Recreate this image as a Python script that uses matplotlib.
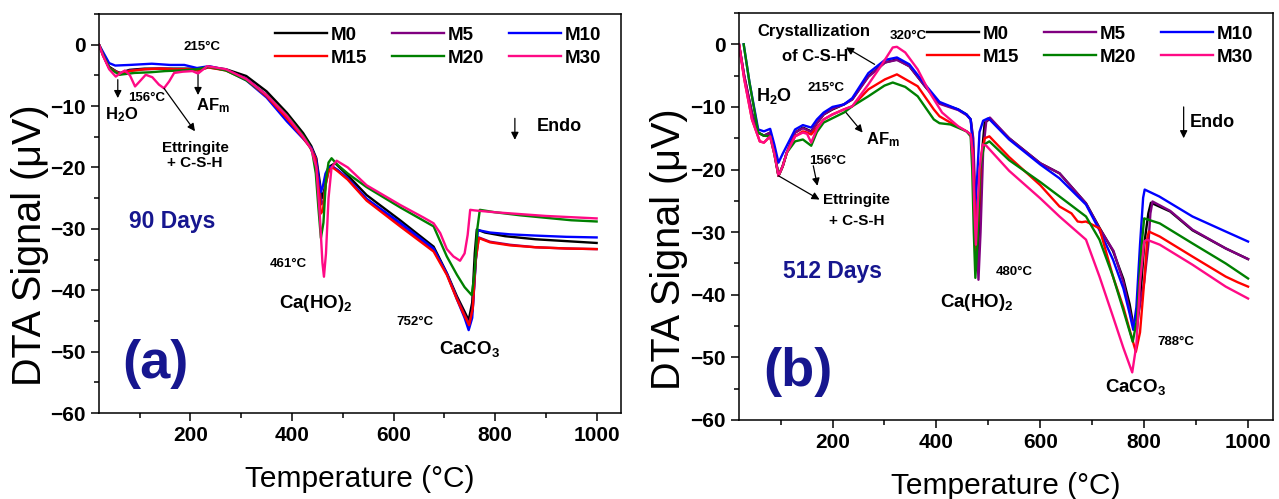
import matplotlib
matplotlib.use("Agg")
import matplotlib.pyplot as plt
from matplotlib.ticker import MultipleLocator

plt.rcParams["font.family"] = ["Liberation Sans", "DejaVu Sans"]
plt.rcParams["mathtext.fontset"] = "custom"
plt.rcParams["mathtext.rm"] = "Liberation Sans:bold"
plt.rcParams["mathtext.it"] = "Liberation Sans:bold"
plt.rcParams["mathtext.bf"] = "Liberation Sans:bold"
plt.rcParams["mathtext.default"] = "rm"

labels = ["M0", "M5", "M10", "M15", "M20", "M30"]
colors = ["#000000", "#800080", "#0000FF", "#FF0000", "#008000", "#FF0A85"]

# ---- 90 days (panel a) ----
m0_90_x = [20, 28, 40, 55, 62, 80, 110, 140, 170, 200, 215, 235, 270, 310, 350, 390, 422, 438, 448, 455, 459, 463, 468, 475, 485,
           510, 547, 613, 679, 705, 725, 740, 748, 755, 760, 764, 780, 820, 880, 940, 1000]
m0_90_y = [0, -1.5, -3.6, -4.4, -4.6, -4.1, -3.9, -3.9, -3.9, -3.9, -4.1, -3.6, -4.0, -5.1, -7.6, -11.1, -14.4, -16.5, -18.5, -22.5,
           -25.0, -24.0, -21.5, -19.8, -19.3, -21.3, -24.5, -28.6, -32.9, -37.2, -41.0, -43.5, -44.9, -42.0, -34.0, -30.1, -30.6,
           -31.2, -31.7, -32.0, -32.3]
m5_90_x = [20, 28, 40, 55, 62, 80, 110, 140, 170, 200, 215, 235, 270, 310, 350, 390, 422, 438, 447, 453, 458, 462, 467, 473, 481,
           490, 510, 547, 613, 679, 705, 725, 740, 749, 756, 762, 768, 790, 830, 880, 940, 1000]
m5_90_y = [0, -1.7, -3.8, -4.4, -4.7, -4.2, -4.0, -3.9, -4.0, -4.0, -4.2, -3.7, -4.1, -5.5, -8.2, -11.8, -15.0, -16.9, -18.5, -22.5,
           -26.0, -25.5, -22.5, -20.3, -19.9, -20.5, -21.9, -25.2, -29.4, -33.5, -37.3, -41.3, -44.0, -45.5, -43.0, -35.0, -31.4,
           -32.1, -32.6, -33.0, -33.2, -33.3]
m10_90_x = [20, 28, 40, 52, 80, 124, 160, 188, 213, 237, 270, 310, 350, 390, 422, 438, 447, 453, 457, 461, 466, 472, 480, 490,
            510, 547, 613, 679, 705, 725, 740, 748, 755, 760, 766, 790, 830, 880, 940, 1000]
m10_90_y = [0, -1.2, -3.0, -3.4, -3.3, -3.1, -3.3, -3.3, -3.8, -3.5, -4.1, -5.8, -8.6, -12.5, -15.3, -16.8, -18.6, -22.0, -24.0,
            -23.0, -21.0, -20.0, -19.9, -20.4, -21.8, -25.1, -29.0, -33.2, -37.3, -41.5, -44.5, -46.5, -44.5, -38.0, -30.2, -30.6,
            -30.9, -31.1, -31.3, -31.4]
m15_90_x = [20, 28, 40, 55, 62, 80, 110, 140, 170, 200, 215, 235, 270, 310, 350, 390, 422, 438, 446, 452, 457, 461, 466, 472, 480,
            490, 510, 547, 613, 679, 705, 725, 740, 749, 756, 762, 768, 790, 830, 880, 940, 1000]
m15_90_y = [0, -1.8, -3.8, -4.5, -4.8, -4.3, -4.0, -3.9, -4.0, -4.0, -4.2, -3.7, -4.2, -5.7, -8.4, -12.0, -15.2, -17.0, -18.5,
            -23.0, -27.5, -27.0, -23.0, -20.5, -20.0, -20.6, -22.0, -25.4, -29.6, -33.7, -37.5, -41.5, -44.2, -45.7, -43.0, -35.0,
            -31.5, -32.2, -32.7, -33.0, -33.2, -33.3]
m20_90_x = [20, 28, 40, 60, 90, 120, 150, 180, 213, 237, 270, 310, 350, 390, 422, 432, 440, 447, 452, 457, 462, 467, 472, 478,
            490, 510, 547, 613, 679, 705, 725, 740, 754, 760, 765, 770, 800, 850, 900, 950, 1000]
m20_90_y = [0, -1.6, -3.8, -4.9, -4.6, -4.5, -4.3, -4.2, -4.0, -3.6, -4.2, -5.8, -8.2, -11.5, -14.8, -16.0, -17.5, -21.0, -26.5,
            -31.5, -29.0, -22.0, -19.2, -18.5, -19.6, -21.0, -23.2, -26.5, -29.6, -34.5, -37.5, -39.5, -40.8, -37.0, -30.0, -26.9,
            -27.3, -27.8, -28.2, -28.6, -28.8]
m30_90_x = [20, 28, 40, 53, 63, 71, 81, 91, 101, 112, 125, 138, 148, 158, 168, 185, 204, 215, 233, 270, 310, 350, 390, 422, 438,
            448, 455, 460, 463, 467, 472, 478, 488, 510, 547, 613, 660, 679, 692, 705, 718, 731, 740, 746, 751, 760, 800, 850, 900,
            950, 1000]
m30_90_y = [0, -1.8, -4.0, -5.2, -4.6, -4.2, -5.0, -6.8, -5.9, -4.9, -5.3, -6.5, -7.1, -6.0, -4.6, -4.4, -4.3, -4.7, -3.5, -4.0,
            -5.6, -8.2, -11.6, -15.0, -17.0, -20.0, -28.0, -35.5, -37.8, -34.0, -25.0, -20.0, -18.9, -20.0, -22.9, -26.1, -28.2,
            -29.1, -30.7, -33.3, -34.5, -35.2, -34.0, -31.0, -26.9, -27.0, -27.3, -27.6, -27.9, -28.1, -28.3]

# ---- 512 days (panel b) ----
m0_512_x = [20, 30, 45, 57, 68, 80, 88, 96, 104, 112, 128, 143, 151, 159, 170, 183, 200, 222, 238, 269, 301, 324, 348, 380, 406,
            442, 458, 466, 470, 474, 478, 482, 487, 493, 503, 540, 600, 637, 688, 714, 740, 760, 772, 779, 786, 793, 800, 808, 813,
            850, 893, 957, 1000]
m0_512_y = [0, -5.0, -11.0, -14.1, -14.6, -14.1, -17.0, -21.0, -19.5, -17.3, -14.1, -13.3, -13.6, -13.9, -12.6, -11.2, -10.4,
            -9.6, -8.8, -5.1, -2.9, -2.4, -3.5, -6.9, -9.4, -10.4, -11.2, -12.0, -15.0, -25.0, -36.0, -30.0, -18.0, -12.5, -11.9,
            -15.0, -19.0, -20.6, -25.4, -29.3, -33.0, -37.5, -41.5, -44.8, -45.5, -40.0, -32.0, -27.0, -25.3, -26.7, -29.7, -32.6,
            -34.3]
m5_512_x = [20, 30, 45, 57, 68, 80, 88, 96, 104, 112, 128, 143, 151, 159, 170, 183, 200, 222, 238, 269, 301, 324, 348, 380, 406,
            442, 458, 466, 471, 475, 481, 485, 490, 496, 503, 540, 600, 637, 688, 714, 741, 760, 778, 790, 800, 808, 812, 816, 850,
            893, 957, 1000]
m5_512_y = [0, -5.0, -11.0, -14.1, -14.6, -14.1, -17.0, -21.0, -19.5, -17.3, -14.1, -13.4, -13.7, -14.0, -12.6, -11.2, -10.3,
            -9.6, -8.8, -5.2, -2.9, -2.5, -3.5, -6.9, -9.5, -10.5, -11.3, -12.0, -15.0, -25.0, -37.6, -30.0, -17.0, -12.3, -11.7,
            -15.0, -19.0, -20.6, -25.4, -29.4, -33.0, -38.0, -44.8, -42.5, -38.0, -32.0, -27.0, -25.1, -26.6, -29.6, -32.6, -34.3]
m10_512_x = [29, 40, 57, 68, 80, 88, 96, 104, 112, 128, 143, 151, 159, 170, 183, 200, 222, 238, 269, 301, 324, 348, 380, 406,
             442, 458, 466, 470, 474, 478, 483, 490, 500, 540, 600, 637, 688, 714, 740, 760, 772, 779, 785, 792, 798, 801, 829,
             893, 957, 1000]
m10_512_y = [0, -6.0, -13.6, -13.9, -13.5, -16.0, -18.9, -17.5, -16.2, -13.6, -12.9, -13.1, -13.3, -12.0, -10.9, -10.0, -9.6,
             -8.6, -4.6, -2.5, -2.1, -3.2, -6.6, -9.2, -10.4, -11.2, -12.0, -16.0, -27.0, -22.0, -14.0, -12.2, -11.8, -15.2,
             -19.2, -21.4, -25.6, -29.7, -34.4, -39.0, -43.0, -45.6, -42.0, -32.0, -24.5, -23.2, -24.3, -27.5, -29.9, -31.5]
m15_512_x = [20, 30, 45, 60, 68, 80, 88, 96, 104, 112, 128, 143, 151, 159, 170, 183, 200, 222, 238, 269, 301, 324, 364, 395, 406,
             427, 458, 466, 470, 474, 477, 481, 486, 493, 502, 540, 600, 637, 660, 672, 680, 688, 700, 714, 740, 760, 775, 784,
             792, 800, 806, 809, 830, 893, 957, 980, 1000]
m15_512_y = [0, -5.5, -12.0, -15.5, -15.7, -14.7, -17.5, -21.0, -19.5, -17.3, -14.7, -13.9, -14.1, -14.4, -13.3, -12.0, -11.2,
             -10.4, -9.9, -7.2, -5.6, -4.8, -6.7, -10.4, -11.5, -12.5, -13.9, -14.4, -17.0, -26.0, -33.0, -28.0, -18.0, -15.0,
             -14.7, -18.0, -22.5, -25.9, -27.0, -28.3, -28.4, -28.3, -28.8, -29.4, -37.1, -42.0, -46.5, -49.1, -46.0, -38.0,
             -31.0, -29.9, -30.7, -33.9, -37.1, -38.0, -38.7]
m20_512_x = [29, 40, 57, 68, 80, 88, 96, 104, 112, 128, 143, 151, 159, 170, 183, 200, 222, 238, 269, 300, 316, 340, 364, 395,
             406, 427, 458, 466, 469, 472, 475, 479, 484, 492, 502, 540, 600, 637, 688, 714, 740, 760, 778, 786, 794, 800, 830,
             893, 957, 1000]
m20_512_y = [0, -6.0, -14.1, -14.6, -14.7, -17.5, -21.0, -19.5, -17.3, -15.5, -15.2, -15.7, -16.2, -14.0, -12.5, -11.8, -10.9,
             -9.9, -8.3, -6.6, -6.1, -6.8, -8.3, -12.0, -12.6, -12.8, -13.9, -14.7, -20.0, -30.0, -37.3, -32.0, -20.0, -16.0,
             -15.5, -18.5, -22.0, -24.3, -27.5, -31.2, -37.1, -42.5, -47.5, -44.0, -33.0, -27.8, -28.6, -31.8, -35.0, -37.4]
m30_512_x = [20, 30, 45, 60, 68, 80, 88, 96, 104, 112, 128, 143, 151, 159, 170, 183, 200, 222, 238, 269, 293, 316, 324, 340, 364,
             387, 411, 442, 458, 466, 470, 473, 476, 479, 483, 489, 496, 540, 600, 637, 688, 714, 740, 760, 777, 785, 792, 800,
             805, 830, 893, 957, 1000]
m30_512_y = [0, -5.5, -12.0, -15.5, -15.7, -14.7, -17.5, -21.0, -19.5, -17.3, -14.7, -14.1, -14.3, -15.7, -13.5, -12.0, -11.2,
             -10.4, -9.9, -6.4, -3.5, -0.5, -0.4, -1.3, -4.0, -7.7, -10.9, -13.1, -13.9, -14.4, -18.0, -26.0, -32.0, -27.0, -20.0,
             -16.0, -16.2, -20.2, -24.6, -27.5, -31.2, -37.1, -43.5, -48.5, -52.4, -48.0, -38.0, -31.5, -31.2, -32.0, -35.2,
             -38.7, -40.6]

series_90 = [(m0_90_x, m0_90_y), (m5_90_x, m5_90_y), (m10_90_x, m10_90_y),
             (m15_90_x, m15_90_y), (m20_90_x, m20_90_y), (m30_90_x, m30_90_y)]
series_512 = [(m0_512_x, m0_512_y), (m5_512_x, m5_512_y), (m10_512_x, m10_512_y),
              (m15_512_x, m15_512_y), (m20_512_x, m20_512_y), (m30_512_x, m30_512_y)]

navy = "#16168f"
W, H = 1279, 499
fig = plt.figure(figsize=(W / 100, H / 100), dpi=100)
ax1 = fig.add_axes([99 / W, 1 - 413 / H, 522 / W, 399 / H])
ax2 = fig.add_axes([739 / W, 1 - 420 / H, 534 / W, 407 / H])


def style_axis(ax, lines):
    ax.set_xlim(20, 1048)
    ax.set_ylim(-60, 5)
    ax.xaxis.set_major_locator(MultipleLocator(200))
    ax.xaxis.set_minor_locator(MultipleLocator(100))
    ax.yaxis.set_major_locator(MultipleLocator(10))
    ax.yaxis.set_minor_locator(MultipleLocator(5))
    ax.tick_params(which="both", direction="out", top=False, right=False, width=1.1)
    ax.tick_params(which="major", length=6, labelsize=15)
    ax.tick_params(which="minor", length=3.5)
    for lab in ax.get_xticklabels() + ax.get_yticklabels():
        lab.set_fontweight("bold")
    for sp in ax.spines.values():
        sp.set_linewidth(1.1)
    ax.set_xlabel("Temperature (°C)", fontsize=21.5, labelpad=14)
    ax.set_ylabel("DTA Signal (μV)", fontsize=28.5)
    ax.yaxis.set_label_coords(-0.095, 0.42)
    # matplotlib fills legend columns first, so reorder to read row-wise
    order = [0, 3, 1, 4, 2, 5]
    ax.legend([lines[i] for i in order], [labels[i] for i in order], ncol=3, loc="upper right",
              bbox_to_anchor=(0.995, 1.01), frameon=False,
              prop={"weight": "bold", "size": 13.5}, handlelength=2.8, handletextpad=0.2,
              columnspacing=1.3, labelspacing=0.3)


def arrow(ax, tail, head):
    ax.annotate("", xy=head, xytext=tail,
                arrowprops=dict(arrowstyle="-|>", color="k", lw=0.9, mutation_scale=11, shrinkA=0, shrinkB=0))


for ax, series in [(ax1, series_90), (ax2, series_512)]:
    lines = []
    for (xs, ys), lab, c in zip(series, labels, colors):
        ln, = ax.plot(xs, ys, color=c, lw=1.7, label=lab)
        lines.append(ln)
    style_axis(ax, lines)

bold = dict(fontweight="bold", ha="center", va="center")

# panel a annotations
ax1.text(222, -0.3, "215°C", fontsize=9.5, **bold)
arrow(ax1, (57, -5.7), (57, -8.7))
ax1.text(65, -11.4, "H$_2$O", fontsize=12, **bold)
ax1.text(113, -8.7, "156°C", fontsize=9.5, **bold)
arrow(ax1, (148, -7.1), (209, -14.1))
arrow(ax1, (215, -4.9), (215, -8.2))
ax1.text(245, -10.0, "AF$_m$", fontsize=12, **bold)
ax1.text(209, -16.8, "Ettringite", fontsize=11, **bold)
ax1.text(209, -19.3, "+ C-S-H", fontsize=11, **bold)
arrow(ax1, (839, -12.0), (839, -15.5))
ax1.text(926, -13.3, "Endo", fontsize=13, **bold)
ax1.text(164, -28.8, "90 Days", fontsize=16.5, color=navy, **bold)
ax1.text(392, -35.7, "461°C", fontsize=9.5, **bold)
ax1.text(447, -42.2, "Ca(HO)$_2$", fontsize=13.5, **bold)
ax1.text(642, -45.2, "752°C", fontsize=9.5, **bold)
ax1.text(750, -49.5, "CaCO$_3$", fontsize=13.5, **bold)
ax1.text(132, -52.0, "(a)", fontsize=39, color=navy, **bold)

# panel b annotations
ax2.text(165, 2.0, "Crystallization", fontsize=12, **bold)
ax2.text(167, -1.9, "of C-S-H", fontsize=12, **bold)
ax2.text(346, 1.3, "320°C", fontsize=9.5, **bold)
arrow(ax2, (281, -3.2), (226, -0.5))
ax2.text(88, -8.3, "H$_2$O", fontsize=13, **bold)
ax2.text(188, -6.9, "215°C", fontsize=9.5, **bold)
arrow(ax2, (226, -10.9), (258, -14.1))
ax2.text(297, -15.2, "AF$_m$", fontsize=12, **bold)
ax2.text(190, -18.6, "156°C", fontsize=9.5, **bold)
arrow(ax2, (163, -19.4), (171, -22.6))
arrow(ax2, (96, -21.0), (175, -24.8))
ax2.text(246, -24.8, "Ettringite", fontsize=11, **bold)
ax2.text(246, -28.2, "+ C-S-H", fontsize=11, **bold)
arrow(ax2, (876, -10.0), (876, -15.0))
ax2.text(931, -12.5, "Endo", fontsize=13, **bold)
ax2.text(200, -36.3, "512 Days", fontsize=16.5, color=navy, **bold)
ax2.text(549, -36.4, "480°C", fontsize=9.5, **bold)
ax2.text(478, -41.3, "Ca(HO)$_2$", fontsize=13.5, **bold)
ax2.text(860, -47.5, "788°C", fontsize=9.5, **bold)
ax2.text(783, -54.7, "CaCO$_3$", fontsize=13.5, **bold)
ax2.text(133, -52.3, "(b)", fontsize=39, color=navy, **bold)

fig.savefig("out.png", dpi=100)
